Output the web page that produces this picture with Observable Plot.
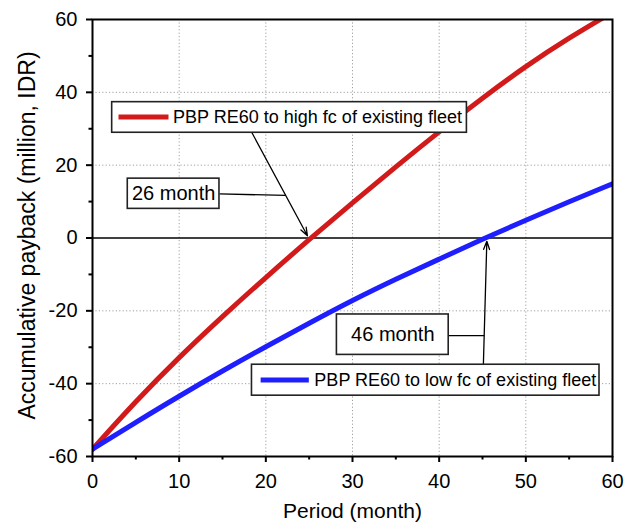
<!DOCTYPE html>
<html>
<head>
<meta charset="utf-8">
<script src="https://cdn.jsdelivr.net/npm/d3@7"></script>
<script src="https://cdn.jsdelivr.net/npm/@observablehq/plot@0.6"></script>
<style>
  html, body { margin: 0; padding: 0; background: #fff; }
  #chart svg { display: block; font-family: "Liberation Sans", Arial, sans-serif; }
</style>
</head>
<body>
<div id="chart"></div>
<script>
// ---- data ----
const months = [0, 5, 10, 15, 20, 25, 30, 35, 40, 45, 50, 55, 60];
const highFc = [-58, -44.8, -32.7, -21.5, -10.8, -0.4, 9.7, 19.6, 29.2, 38.5, 47.2, 55.0, 62.0];
const lowFc  = [-58, -50.6, -43.4, -36.5, -29.8, -23.4, -17.1, -11.3, -5.8, -0.3, 4.9, 10.0, 14.9];
const seriesNames = ["PBP RE60 to high fc of existing fleet", "PBP RE60 to low fc of existing fleet"];
const seriesColors = ["#d21a1a", "#1e1eff"];

const xTicks = [0, 10, 20, 30, 40, 50, 60];
const xMinor = [5, 15, 25, 35, 45, 55];
const yTicks = [-60, -40, -20, 0, 20, 40, 60];
const yMinor = [-50, -30, -10, 10, 30, 50];
const xGrid = [10, 20, 30, 40, 50];
const yGrid = [-40, -20, 20, 40];

// annotation anchors (data coordinates)
const boxX1 = [2.27, 4.07, 28.2, 18.4];
const boxX2 = [43.2, 14.65, 41.1, 58.5];
const boxY1 = [28.9, 8.0, -32.1, -43.3];
const boxY2 = [37.3, 16.3, -21.0, -34.8];

const labelTexts = ["26 month", "46 month"];
const labelX = [9.36, 34.65];
const labelY = [12.15, -26.55];

const arrowFrom = [[18.4, 28.9], [45.1, -34.8]];
const arrowTo = [[24.8, 0.6], [45.5, -0.9]];
const leaderFrom = [[14.65, 12.1], [41.1, -26.8]];
const leaderTo = [[22.3, 11.7], [45.2, -26.8]];

const sampleX1 = [3.0, 19.4];
const sampleX2 = [8.77, 24.96];
const sampleY = [33.2, -39.0];
const legendTextX = [9.3, 25.6];

// ---- build tables ----
const rows = [];
months.forEach((m, i) => {
  rows.push({month: m, value: highFc[i], series: seriesNames[0]});
});
months.forEach((m, i) => {
  rows.push({month: m, value: lowFc[i], series: seriesNames[1]});
});
const boxes = boxX1.map((d, i) => ({x1: d, x2: boxX2[i], y1: boxY1[i], y2: boxY2[i]}));
const labels = labelTexts.map((t, i) => ({t, x: labelX[i], y: labelY[i]}));
const arrows = arrowFrom.map((a, i) => ({x1: a[0], y1: a[1], x2: arrowTo[i][0], y2: arrowTo[i][1]}));
const leaders = leaderFrom.map((a, i) => ({x1: a[0], y1: a[1], x2: leaderTo[i][0], y2: leaderTo[i][1]}));
const samples = seriesNames.map((s, i) => ({s, x1: sampleX1[i], x2: sampleX2[i], y: sampleY[i], tx: legendTextX[i]}));

const fmt = d => String(d);

const chart = Plot.plot({
  width: 634,
  height: 532,
  marginLeft: 92,
  marginRight: 22,
  marginTop: 19,
  marginBottom: 76,
  style: {fontFamily: "'Liberation Sans', Arial, sans-serif", color: "black", background: "white"},
  x: {domain: [0, 60]},
  y: {domain: [-60, 60]},
  color: {domain: seriesNames, range: seriesColors},
  marks: [
    Plot.gridX(xGrid, {stroke: "#a0a0a0", strokeOpacity: 1, strokeDasharray: "1.2,2.2", strokeWidth: 1}),
    Plot.gridY(yGrid, {stroke: "#a0a0a0", strokeOpacity: 1, strokeDasharray: "1.2,2.2", strokeWidth: 1}),
    Plot.ruleY([0], {stroke: "black", strokeWidth: 1.3}),
    Plot.line(rows, {x: "month", y: "value", z: "series", stroke: "series", strokeWidth: 5, curve: "basis", clip: "frame"}),
    Plot.arrow(arrows, {x1: "x1", y1: "y1", x2: "x2", y2: "y2", stroke: "black", strokeWidth: 1.3, headLength: 10, headAngle: 40, bend: 0}),
    Plot.link(leaders, {x1: "x1", y1: "y1", x2: "x2", y2: "y2", stroke: "black", strokeWidth: 1.3}),
    Plot.rect(boxes, {x1: "x1", x2: "x2", y1: "y1", y2: "y2", fill: "white", stroke: "#222", strokeWidth: 1.6}),
    Plot.link(samples, {x1: "x1", x2: "x2", y1: "y", y2: "y", stroke: (d) => d.s, strokeWidth: 5}),
    Plot.text(samples, {x: "tx", y: "y", text: "s", textAnchor: "start", lineAnchor: "middle", fontSize: 18, fill: "black"}),
    Plot.text(labels, {x: "x", y: "y", text: "t", textAnchor: "middle", lineAnchor: "middle", fontSize: 20, fill: "black"}),
    Plot.frame({stroke: "black", strokeWidth: 2}),
    Plot.axisX({ticks: xTicks, tickSize: 6, tickPadding: 11, tickFormat: fmt, fontSize: 20, label: null, strokeWidth: 2}),
    Plot.axisX({ticks: xMinor, tickSize: 3.5, tickFormat: () => "", label: null, strokeWidth: 2}),
    Plot.axisY({ticks: yTicks, tickSize: 6, tickPadding: 9, tickFormat: fmt, fontSize: 20, label: null, strokeWidth: 2}),
    Plot.axisY({ticks: yMinor, tickSize: 3.5, tickFormat: () => "", label: null, strokeWidth: 2}),
    Plot.text(["Period (month)"], {frameAnchor: "bottom", dy: 55, lineAnchor: "middle", fontSize: 21, fill: "black"}),
    Plot.text(["Accumulative payback (million, IDR)"], {frameAnchor: "left", textAnchor: "middle", dx: -64.5, dy: -2.5, rotate: -90, lineAnchor: "middle", fontSize: 23, fill: "black"})
  ]
});
document.getElementById("chart").appendChild(chart);
</script>
</body>
</html>
